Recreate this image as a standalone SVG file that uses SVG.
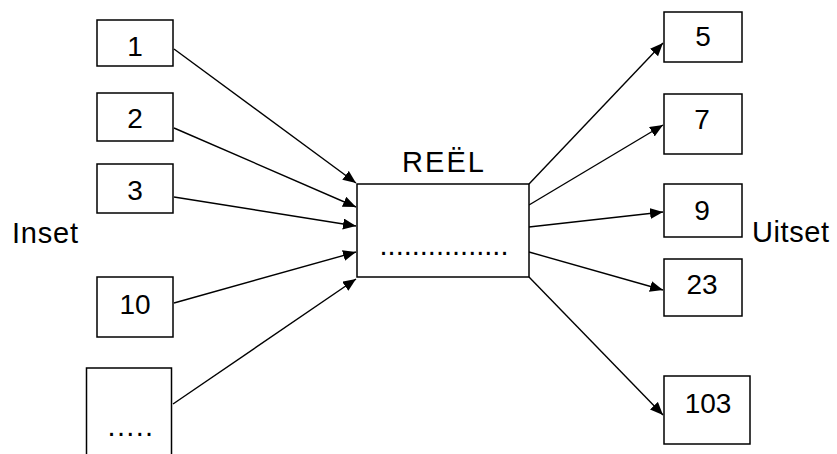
<svg xmlns="http://www.w3.org/2000/svg" width="837" height="454" viewBox="0 0 837 454">
<style>
.box{fill:#fff;stroke:#000;stroke-width:1.5}
.t{font-family:"Liberation Sans",Arial,sans-serif;font-size:28px;fill:#000}
.lbl{font-family:"Liberation Sans",Arial,sans-serif;font-size:29px;fill:#000}
.m{text-anchor:middle}
.c{stroke:#000;stroke-width:1.4;fill:none;marker-end:url(#ah)}
</style>
<defs>
<marker id="ah" markerUnits="userSpaceOnUse" markerWidth="14" markerHeight="12" refX="13" refY="5.5" orient="auto">
<path d="M0,0 L13,5.5 L0,11 z" fill="#000"/>
</marker>
</defs>
<rect width="837" height="454" fill="#fff"/>
<g id="connectors">
<line class="c" x1="174" y1="49" x2="356" y2="183"/>
<line class="c" x1="174" y1="128" x2="356" y2="207"/>
<line class="c" x1="174" y1="197" x2="356" y2="226"/>
<line class="c" x1="174" y1="303" x2="356" y2="252"/>
<line class="c" x1="173" y1="404" x2="356" y2="279"/>
<line class="c" x1="529" y1="184" x2="663" y2="43"/>
<line class="c" x1="529" y1="205" x2="663" y2="125"/>
<line class="c" x1="529" y1="227" x2="663" y2="212"/>
<line class="c" x1="529" y1="252" x2="663" y2="290"/>
<line class="c" x1="529" y1="277" x2="663" y2="415"/>
</g>
<g id="in1"><rect class="box" x="97" y="20" width="76" height="46"/><text class="t m" x="135" y="56">1</text></g>
<g id="in2"><rect class="box" x="97" y="93" width="76" height="48"/><text class="t m" x="135" y="128">2</text></g>
<g id="in3"><rect class="box" x="97" y="164" width="76" height="49"/><text class="t m" x="135" y="200">3</text></g>
<g id="in10"><rect class="box" x="97" y="277" width="76" height="60"/><text class="t m" x="135" y="314">10</text></g>
<g id="inMore"><rect class="box" x="86.5" y="368" width="85" height="100"/><text class="lbl m" x="131" y="436" letter-spacing="1.3">.....</text></g>
<g id="center"><rect class="box" x="357" y="184" width="172" height="93"/><text class="lbl m" x="444" y="255">................</text></g>
<g id="out5"><rect class="box" x="664" y="12" width="78" height="50"/><text class="t m" x="703" y="46">5</text></g>
<g id="out7"><rect class="box" x="664" y="94" width="78" height="60"/><text class="t m" x="702" y="129">7</text></g>
<g id="out9"><rect class="box" x="664" y="184" width="78" height="53"/><text class="t m" x="702" y="220">9</text></g>
<g id="out23"><rect class="box" x="664" y="259" width="78" height="57"/><text class="t m" x="702" y="294">23</text></g>
<g id="out103"><rect class="box" x="664" y="376" width="86" height="68"/><text class="t m" x="708" y="413">103</text></g>
<text class="lbl" x="12" y="243" letter-spacing="0.8">Inset</text>
<text class="lbl" x="752" y="242" letter-spacing="0.6">Uitset</text>
<text class="lbl m" x="444" y="172" letter-spacing="2">REËL</text>
</svg>
